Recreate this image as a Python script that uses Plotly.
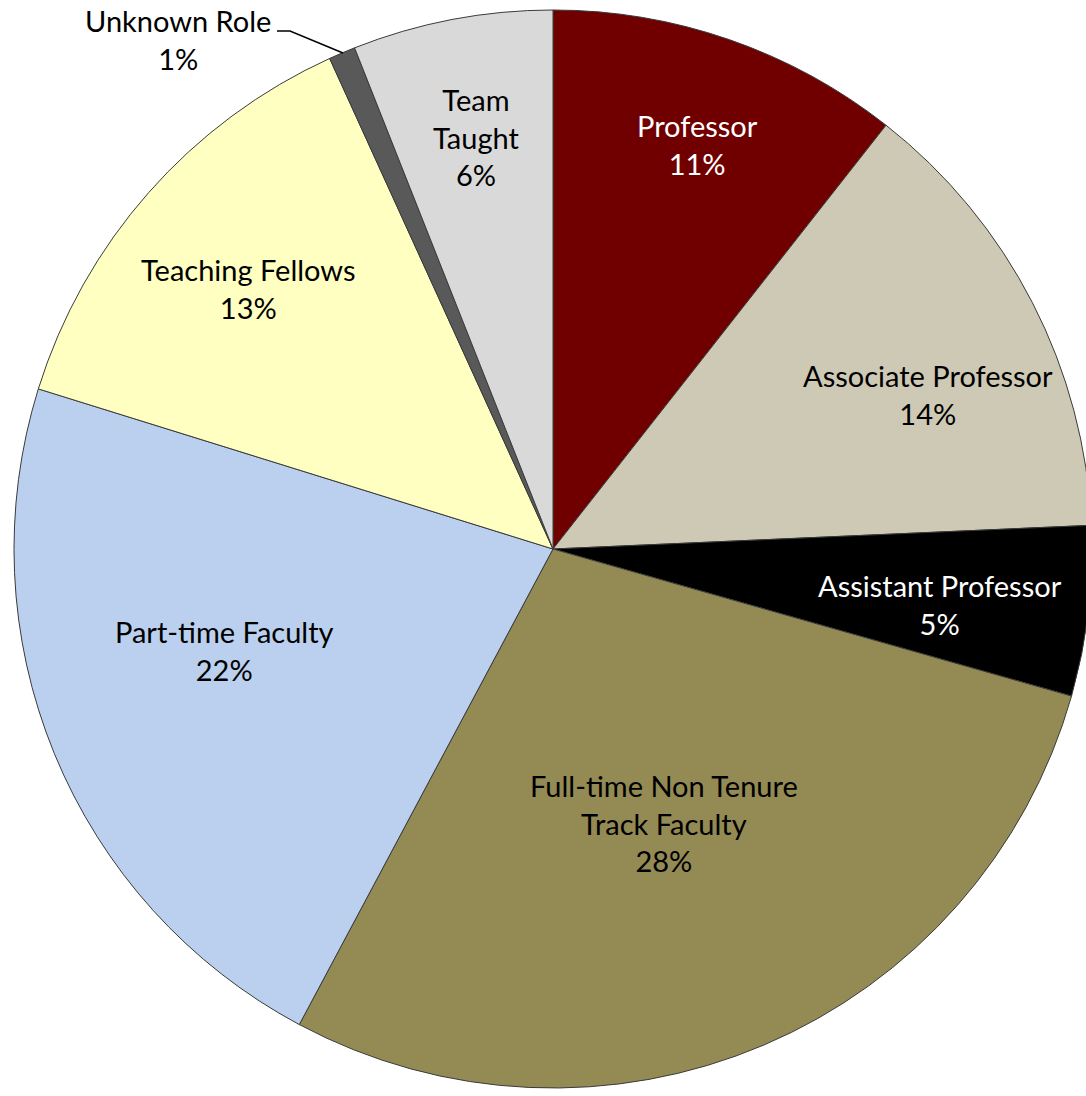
import plotly.graph_objects as go

# ---- data ----
categories = ["Professor", "Associate Professor", "Assistant Professor",
              "Full-time Non Tenure<br>Track Faculty", "Part-time Faculty",
              "Teaching Fellows", "Unknown Role", "Team<br>Taught"]
shares = [10.6, 13.7, 5.1, 28.4, 22.0, 13.4, 0.8, 6.0]

# ---- style ----
colors = ["#700000", "#CEC9B4", "#000000", "#948A54", "#BAD0EE",
          "#FFFFC1", "#595959", "#D9D9D9"]
text_colors = ["white", "black", "white", "black", "black", "black", "black", "black"]
# label centres in pixels (x, y from top)
label_px = [(697, 144), (928, 394), (940, 604), (664, 823), (224, 650),
            (248, 289), (178, 39), (476, 137)]

W, H = 1100, 1096
cx, cy, r = 553, 549, 539

fig = go.Figure(go.Pie(
    labels=[c.replace("<br>", " ") for c in categories],
    values=shares,
    sort=False,
    direction="clockwise",
    rotation=0,
    textinfo="none",
    hoverinfo="label+percent",
    marker=dict(colors=colors, line=dict(color="#3a3a3a", width=1)),
    domain=dict(x=[(cx - r) / W, (cx + r) / W], y=[1 - (cy + r) / H, 1 - (cy - r) / H]),
    showlegend=False,
))

total = sum(shares)
annotations = []
for cat, v, (px, py), tc in zip(categories, shares, label_px, text_colors):
    annotations.append(dict(
        x=px / W, y=1 - py / H, xref="paper", yref="paper",
        text=f"{cat}<br>{round(v / total * 100)}%",
        showarrow=False, xanchor="center", yanchor="middle",
        font=dict(family="Lato, Carlito, sans-serif", size=29, color=tc),
    ))

# leader line for Unknown Role
pts = [(277, 31), (290, 31), (343, 53)]
path = "M " + " L ".join(f"{x / W},{1 - y / H}" for x, y in pts)
shapes = [dict(type="path", path=path, xref="paper", yref="paper",
               line=dict(color="black", width=1.5))]

fig.update_layout(
    width=W, height=H,
    margin=dict(l=0, r=0, t=0, b=0),
    paper_bgcolor="white", plot_bgcolor="white",
    annotations=annotations, shapes=shapes,
)

fig.write_html("out.html",
               config={"displayModeBar": False},
               post_script="document.body.style.margin='0';document.body.style.overflow='hidden';")
